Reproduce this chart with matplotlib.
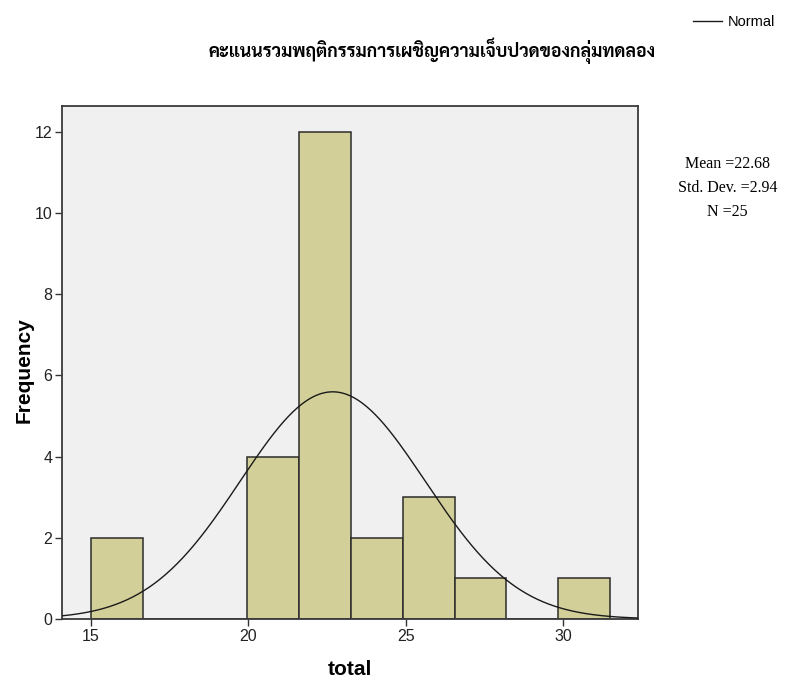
import numpy as np
import matplotlib
matplotlib.use("Agg")
import matplotlib.pyplot as plt

# data
bin_edges = [15.0, 16.65, 18.3, 19.95, 21.6, 23.25, 24.9, 26.55, 28.2, 29.85, 31.5]
counts = [2, 0, 0, 4, 12, 2, 3, 1, 0, 1]
mean, sd, n = 22.68, 2.94, 25
title = "คะแนนรวมพฤติกรรมการเผชิญความเจ็บปวดของกลุ่มทดลอง"
stats_lines = ["Mean =22.68", "Std. Dev. =2.94", "N =25"]

plt.rcParams["font.family"] = ["Liberation Sans", "DejaVu Sans"]

fig = plt.figure(figsize=(7.98, 6.82), dpi=100)
ax = fig.add_axes([0.0777, 0.0924, 0.7218, 0.7522])
ax.set_facecolor("#f0f0f0")

widths = np.diff(bin_edges)
ax.bar(bin_edges[:-1], counts, width=widths, align="edge",
       color="#d3cf98", edgecolor="#2b2b2b", linewidth=1.1, zorder=2)

# normal curve scaled to counts
xs = np.linspace(14.08, 32.38, 400)
bw = widths[0]
ys = n * bw / (sd * np.sqrt(2 * np.pi)) * np.exp(-0.5 * ((xs - mean) / sd) ** 2)
line, = ax.plot(xs, ys, color="#1a1a1a", linewidth=1.0, zorder=3)

ax.set_xlim(14.08, 32.38)
ax.set_ylim(0, 12.64)
ax.set_xticks([15, 20, 25, 30])
ax.set_yticks([0, 2, 4, 6, 8, 10, 12])
ax.tick_params(direction="out", length=5, width=1, color="#333333",
               labelsize=11.5, labelcolor="#222222", pad=2)
for s in ax.spines.values():
    s.set_color("#3a3a3a")
    s.set_linewidth(1.3)

ax.set_xlabel("total", fontsize=15, fontweight="bold", labelpad=12)
ax.set_ylabel("Frequency", fontsize=15, fontweight="bold")
ax.yaxis.set_label_coords(-0.05, 0.485)

fig.text(0.542, 0.926, title, ha="center", va="center", fontsize=12.8,
         fontweight="bold", family=["Sarabun", "DejaVu Sans"])

fig.legend([line], ["Normal"], loc="upper right", bbox_to_anchor=(0.988, 0.997),
           frameon=False, fontsize=10.5, handlelength=2.0, handletextpad=0.4)

for y, t in zip([0.759, 0.724, 0.689], stats_lines):
    fig.text(0.912, y, t, ha="center", va="center", fontsize=11.5,
             family="Liberation Serif")

fig.savefig("out.png", dpi=100)
